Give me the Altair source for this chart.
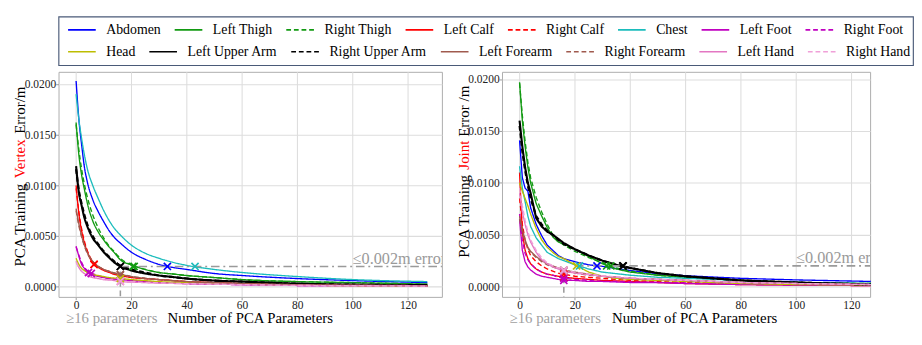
import altair as alt
import pandas as pd

FONT = "Liberation Serif"
UNIT = 1e-4  # all error values below are written in units of 1e-4 m

X_PTS = [0, 1, 2, 3, 4, 6, 8, 10, 12, 14, 16, 20, 25, 30, 35, 40, 50, 60, 80, 100, 127]

PARTS = ["Abdomen", "Left Thigh", "Right Thigh", "Left Calf", "Right Calf", "Chest",
         "Left Foot", "Right Foot", "Head", "Left Upper Arm", "Right Upper Arm",
         "Left Forearm", "Right Forearm", "Left Hand", "Right Hand"]
COLORS = ["#0000ff", "#129a12", "#129a12", "#ff0000", "#ff0000", "#1bbcbc",
          "#c000c0", "#c000c0", "#bdbd00", "#000000", "#000000",
          "#a05a4e", "#a05a4e", "#e377c2", "#f0a0d8"]
DASHES = [[1, 0], [1, 0], [5, 3], [1, 0], [5, 3], [1, 0], [1, 0], [5, 3],
          [1, 0], [1, 0], [5, 3], [1, 0], [5, 3], [1, 0], [5, 3]]

# ---- PCA training vertex error (left panel) ----
V_ABDOMEN = [203, 165, 140, 118, 104, 86, 74, 64, 55, 48, 43, 34, 27, 22, 19, 17, 13, 11, 8, 6, 4]
V_LTHIGH = [162, 130, 110, 96, 83, 65, 54, 46, 39, 33, 26.5, 21.5, 17, 14, 12.5, 11, 9, 7, 5, 4, 2.5]
V_RTHIGH = [160, 135, 116, 101, 89, 71, 58, 48, 40, 34, 28, 21.5, 17, 14, 12.5, 11, 9, 7, 5, 4, 2.5]
V_LCALF = [100, 72, 55, 43, 35, 23, 19, 16, 14, 12, 11, 9, 8, 7, 6, 5, 4, 3, 2, 1.5, 1]
V_RCALF = [97, 74, 57, 45, 36, 25, 20, 17, 15, 13, 12, 9.5, 8, 7, 6, 5, 4, 3, 2, 1.5, 1]
V_CHEST = [190, 165, 146, 130, 117, 100, 87, 75, 65, 57, 51, 41, 33, 28, 24, 21, 17, 14, 10, 7, 5]
V_LFOOT = [40, 30, 22, 18, 15, 12, 10, 9, 8, 7.5, 7, 6, 5, 4, 3.5, 3, 2.5, 2, 1.2, 1, 0.5]
V_RFOOT = [39, 31, 24, 19, 16, 13, 11, 9, 8, 7.5, 7, 6, 5, 4, 3.5, 3, 2.5, 2, 1.2, 1, 0.5]
V_HEAD = [28, 22, 18, 16, 14, 12, 11, 10, 9, 8.5, 8, 7, 6, 5, 4.5, 4, 3, 2.5, 1.5, 1, 0.5]
V_LUARM = [119, 93, 80, 68, 60, 48, 41, 34, 28.5, 23.5, 20, 16, 13, 11, 9.5, 8, 6, 5, 3, 2, 1.5]
V_RUARM = [116, 95, 82, 71, 62, 50, 42, 35, 29.5, 24.5, 21, 17, 14, 11, 9.5, 8, 6, 5, 3, 2, 1.5]
V_LFORE = [77, 62, 50, 41, 34, 25, 20, 17, 15, 13, 12, 10, 8, 7, 6, 5, 4, 3, 2, 1.5, 1]
V_RFORE = [75, 60, 49, 40, 33, 25, 20, 17, 15, 13.5, 12.5, 10, 8.5, 7, 6, 5, 4, 3, 2, 1.5, 1]
V_LHAND = [25, 19, 15, 13, 11, 9, 8, 7, 6.5, 6, 5, 4.5, 4, 3.5, 3.2, 3, 2.5, 2, 1.2, 1, 0.5]
V_RHAND = [24, 19, 16, 13, 12, 10, 8, 7, 6.5, 6, 5.5, 4.8, 4.2, 3.7, 3.3, 3, 2.5, 2, 1.2, 1, 0.5]

# ---- PCA training joint error (right panel) ----
J_ABDOMEN = [141, 105, 95, 92, 76, 60, 49, 40, 35, 30, 27, 24, 21, 19.5, 17.5, 15.5, 12.5, 10.5, 8, 6.5, 5]
J_LTHIGH = [197, 160, 135, 115, 100, 80, 68, 57, 48, 43, 41, 36, 29, 22, 17, 14, 11, 9, 6, 4, 3]
J_RTHIGH = [196, 165, 140, 120, 105, 86, 72, 60, 50, 44, 40, 34, 28, 23, 18, 15, 11, 9, 6, 4, 3]
J_LCALF = [110, 52, 35, 27, 22, 17, 14, 12, 11, 10, 9, 8, 7, 6, 5.5, 5, 4, 3, 2, 1.5, 1]
J_RCALF = [85, 60, 45, 36, 30, 24, 20, 17, 15, 13, 12, 10, 9, 8, 7, 6, 5, 4, 3, 2, 1.5]
J_CHEST = [116, 95, 82, 68, 58, 47, 40, 33, 30, 27, 25, 21, 17, 14, 12.5, 11, 9, 8, 6, 4, 3]
J_LFOOT = [65, 35, 24, 19, 16, 12, 10, 9, 8, 7, 6, 6, 5, 5, 4.5, 4, 4, 3, 2, 1.5, 1]
J_RFOOT = [70, 45, 32, 26, 22, 17, 14, 12, 11, 9, 8, 7, 6, 5, 5, 4.5, 4, 3.5, 2.5, 2, 1.5]
J_HEAD = [100, 92, 85, 78, 70, 56, 45, 38, 33, 29, 27, 21, 14, 10, 8, 7, 6, 5, 3, 2, 1.5]
J_LUARM = [160, 135, 115, 100, 90, 66, 58, 53, 50, 46, 42, 36, 30, 25, 21, 18, 13, 10, 6, 4, 2]
J_RUARM = [155, 130, 112, 97, 85, 68, 60, 54, 50, 45, 41, 36, 30, 25, 21, 18, 13, 10, 6, 4, 2]
J_LFORE = [68, 55, 45, 38, 34, 29, 25, 22, 20, 18, 16, 14, 12, 10, 9, 8, 7, 6, 4, 3, 2]
J_RFORE = [65, 52, 43, 37, 33, 28, 24, 21, 19, 17, 15, 13, 11, 10, 9, 8, 7, 6, 4, 3, 2]
J_LHAND = [90, 72, 60, 50, 43, 33, 26, 22, 19, 17, 15, 13, 11.5, 10, 9, 8, 7, 6, 4, 3, 2]
J_RHAND = [95, 78, 64, 53, 45, 35, 28, 23, 20, 18, 16, 14, 12, 10.5, 9.5, 8.5, 7, 6, 4, 3, 2]

# ---- x markers (chosen parameter counts) ----
V_MARK_PART = ["Left Upper Arm", "Right Upper Arm", "Left Thigh", "Right Thigh", "Abdomen", "Chest",
               "Left Calf", "Right Calf", "Left Foot", "Right Foot",
               "Left Forearm", "Right Forearm", "Head", "Left Hand", "Right Hand"]
V_MARK_X = [16, 16, 21, 20.5, 33, 43, 6.5, 6.5, 4.5, 5.5, 16, 16, 16, 16, 16]
V_MARK_Y = [20, 20, 20, 20, 20, 20, 22, 22, 14, 13, 11.5, 12, 8, 5, 5.5]

J_MARK_PART = ["Head", "Chest", "Abdomen", "Left Thigh", "Right Thigh", "Left Upper Arm", "Right Upper Arm",
               "Left Calf", "Right Calf", "Left Forearm", "Right Forearm", "Left Foot", "Right Foot",
               "Left Hand", "Right Hand"]
J_MARK_X = [20.6, 21.7, 28, 31.5, 33, 37.3, 37.5, 16, 16, 16, 16, 16, 16, 16, 16]
J_MARK_Y = [20, 20, 20, 20, 20, 20, 20, 9, 12, 16, 15, 6, 8, 15, 16]

THRESH = 0.002
N_MIN = 16

VERTEX = [V_ABDOMEN, V_LTHIGH, V_RTHIGH, V_LCALF, V_RCALF, V_CHEST, V_LFOOT, V_RFOOT,
          V_HEAD, V_LUARM, V_RUARM, V_LFORE, V_RFORE, V_LHAND, V_RHAND]
JOINT = [J_ABDOMEN, J_LTHIGH, J_RTHIGH, J_LCALF, J_RCALF, J_CHEST, J_LFOOT, J_RFOOT,
         J_HEAD, J_LUARM, J_RUARM, J_LFORE, J_RFORE, J_LHAND, J_RHAND]

# Times / Liberation Serif advance widths (per 1000 em) used for text layout
TIMES_W = {' ': 250, 'A': 722, 'C': 667, 'E': 611, 'F': 556, 'H': 722, 'J': 389, 'L': 611,
           'N': 722, 'P': 556, 'R': 667, 'T': 611, 'U': 722, 'V': 722, '/': 278,
           'a': 444, 'b': 500, 'c': 444, 'd': 500, 'e': 444, 'f': 333, 'g': 500, 'h': 500,
           'i': 278, 'l': 278, 'm': 778, 'n': 500, 'o': 500, 'p': 500, 'r': 333, 's': 389,
           't': 278, 'u': 500, 'x': 500}


def text_w(s, size):
    return sum(TIMES_W.get(c, 500) for c in s) * size / 1000.0


def long_table(series):
    rows = []
    for part, vals in zip(PARTS, series):
        for n, v in zip(X_PTS, vals):
            rows.append({"part": part, "n": n, "err": v * UNIT})
    return pd.DataFrame(rows)


def mark_table(parts, xs, ys):
    return pd.DataFrame({"part": parts, "n": xs, "err": [v * UNIT for v in ys]})


COLOR_SCALE = alt.Scale(domain=PARTS, range=COLORS)
DASH_SCALE = alt.Scale(domain=PARTS, range=DASHES)

XPATH = "M-1,-1L1,1M-1,1L1,-1"
YTICKS = [0, 0.0025, 0.005, 0.0075, 0.01, 0.0125, 0.015, 0.0175, 0.02]
XTICKS = [0, 20, 40, 60, 80, 100, 120]
GREY = "#9a9a9a"
H = 236
YT_FS = 15.7
PX_PER_N = 2.9


# ---------------- legend (drawn as its own small chart) ----------------
LW, LH = 896, 51
LEG_FS = 14.5
SYM, GAP, PAD_L, PAD_R = 29, 11, 10, 3
ROWS = [PARTS[:8], PARTS[8:]]
ROW_Y = [14, 37]


def legend_chart():
    cps = []
    for items in ROWS:
        fixed = PAD_L + sum(SYM + GAP + text_w(p, LEG_FS) for p in items)
        cps.append((LW - PAD_R - fixed) / (len(items) - 1))
    cp = min(18, min(cps))
    rows = []
    for items, yc in zip(ROWS, ROW_Y):
        x = PAD_L
        for p in items:
            rows.append({"part": p, "x0": x, "x1": x + SYM, "xt": x + SYM + GAP, "yc": yc})
            x = x + SYM + GAP + text_w(p, LEG_FS) + cp
    df = pd.DataFrame(rows)
    xs = alt.Scale(domain=[0, LW], nice=False, zero=False)
    ys = alt.Scale(domain=[0, LH], nice=False, zero=False, reverse=True)
    base = alt.Chart(df)
    sym = base.mark_rule(strokeWidth=1.6).encode(
        x=alt.X("x0:Q", scale=xs, axis=None), x2="x1:Q",
        y=alt.Y("yc:Q", scale=ys, axis=None),
        color=alt.Color("part:N", scale=COLOR_SCALE, legend=None),
        strokeDash=alt.StrokeDash("part:N", scale=DASH_SCALE, legend=None))
    lab = base.mark_text(align="left", baseline="middle", font=FONT, fontSize=LEG_FS,
                         color="black").encode(
        x=alt.X("xt:Q", scale=xs, axis=None), y=alt.Y("yc:Q", scale=ys, axis=None),
        text="part:N")
    return alt.layer(sym, lab).properties(
        width=LW, height=LH, view=alt.ViewBackground(stroke="#4a5a78", strokeWidth=1.2))


def panel(series, marks, W, ydom, hline_start, vline_top, title_parts, title_center,
          xtitle_x, interp):
    xdom = [-6.35, -6.35 + W / PX_PER_N]
    lines_df = long_table(series)
    x = alt.X("n:Q", scale=alt.Scale(domain=xdom, nice=False, zero=False),
              axis=alt.Axis(values=XTICKS, format="d", title=None))
    y = alt.Y("err:Q", scale=alt.Scale(domain=ydom, nice=False, zero=False),
              axis=alt.Axis(values=YTICKS, format=".4f", title=None))
    color = alt.Color("part:N", scale=COLOR_SCALE, legend=None)
    dash = alt.StrokeDash("part:N", scale=DASH_SCALE, legend=None)
    width_enc = alt.when(
        alt.FieldOneOfPredicate(field="part", oneOf=["Left Upper Arm", "Right Upper Arm"])
    ).then(alt.value(2.2)).otherwise(alt.value(1.4))

    lines = alt.Chart(lines_df).mark_line(interpolate=interp).encode(
        x=x, y=y, color=color, strokeDash=dash, strokeWidth=width_enc,
        order=alt.Order("n:Q"))

    hline = alt.Chart(pd.DataFrame({"n": [hline_start], "err": [THRESH]})).mark_rule(
        color=GREY, strokeWidth=1.6, strokeDash=[9, 4, 2, 4]).encode(
        x="n:Q", y="err:Q", x2=alt.value(W))
    vline = alt.Chart(pd.DataFrame({"n": [N_MIN], "err": [vline_top]})).mark_rule(
        color=GREY, strokeWidth=1.6, strokeDash=[6, 4]).encode(
        x="n:Q", y="err:Q", y2=alt.value(H))

    pts = alt.Chart(marks).mark_point(shape=XPATH, size=56, filled=False, strokeWidth=1.7,
                                      opacity=1).encode(x="n:Q", y="err:Q", color=color)

    err_txt = alt.Chart(pd.DataFrame({"n": [100], "err": [THRESH], "t": ["≤0.002m error"]})).mark_text(
        align="left", baseline="alphabetic", dy=-3, font=FONT, fontSize=17, color=GREY, clip=True
    ).encode(x="n:Q", y="err:Q", text="t:N")

    one = pd.DataFrame({"k": [0]})
    xtitle = alt.Chart(one).mark_text(align="center", baseline="alphabetic", font=FONT,
                                      fontSize=15.5, color="black").encode(
        x=alt.value(xtitle_x), y=alt.value(H + 27.5), text=alt.value("Number of PCA Parameters"))
    p16 = alt.Chart(pd.DataFrame({"n": [N_MIN]})).mark_text(
        align="center", baseline="alphabetic", font=FONT, fontSize=15.5, color="#a0a0a0", dx=-9
    ).encode(x="n:Q", y=alt.value(H + 27.5), text=alt.value("≥16 parameters"))

    # rotated y title in three colored pieces, laid out bottom-to-top
    full = " ".join(title_parts)
    pos = title_center + text_w(full, YT_FS) / 2
    ytitle = []
    for txt, col in zip(title_parts, ["black", "#ff0000", "black"]):
        ytitle.append(alt.Chart(one).mark_text(
            align="left", baseline="middle", angle=270, font=FONT, fontSize=YT_FS, color=col
        ).encode(x=alt.value(-40), y=alt.value(pos), text=alt.value(txt)))
        pos -= text_w(txt + " ", YT_FS)

    return alt.layer(lines, hline, vline, pts, err_txt, xtitle, p16, *ytitle).properties(
        width=W, height=H)


left = panel(VERTEX, mark_table(V_MARK_PART, V_MARK_X, V_MARK_Y), 402,
             [-0.00101, 0.0212], 16, 0.0015,
             ["PCA Training", "Vertex", "Error/m"], 0.465 * H, 201, "monotone")
right = panel(JOINT, mark_table(J_MARK_PART, J_MARK_X, J_MARK_Y), 386,
              [-0.00099, 0.0207], 20, 0.0018,
              ["PCA Training", "Joint", "Error /m"], 0.444 * H, 202, "linear")

chart = alt.vconcat(
    legend_chart(),
    alt.hconcat(left, right, spacing=12),
    spacing=5,
).properties(
    padding={"left": 4, "top": 0, "right": 0, "bottom": 0}, background="white"
).configure_view(stroke="#aaaaaa", strokeWidth=1).configure_axis(
    labelFont=FONT, labelFontSize=12, labelColor="#222222", tickColor="#999999", tickSize=3,
    labelPadding=0, gridColor="#dddddd", gridWidth=1.1, domain=False
)

chart.save("out.html", embed_options={"renderer": "svg", "actions": False})
